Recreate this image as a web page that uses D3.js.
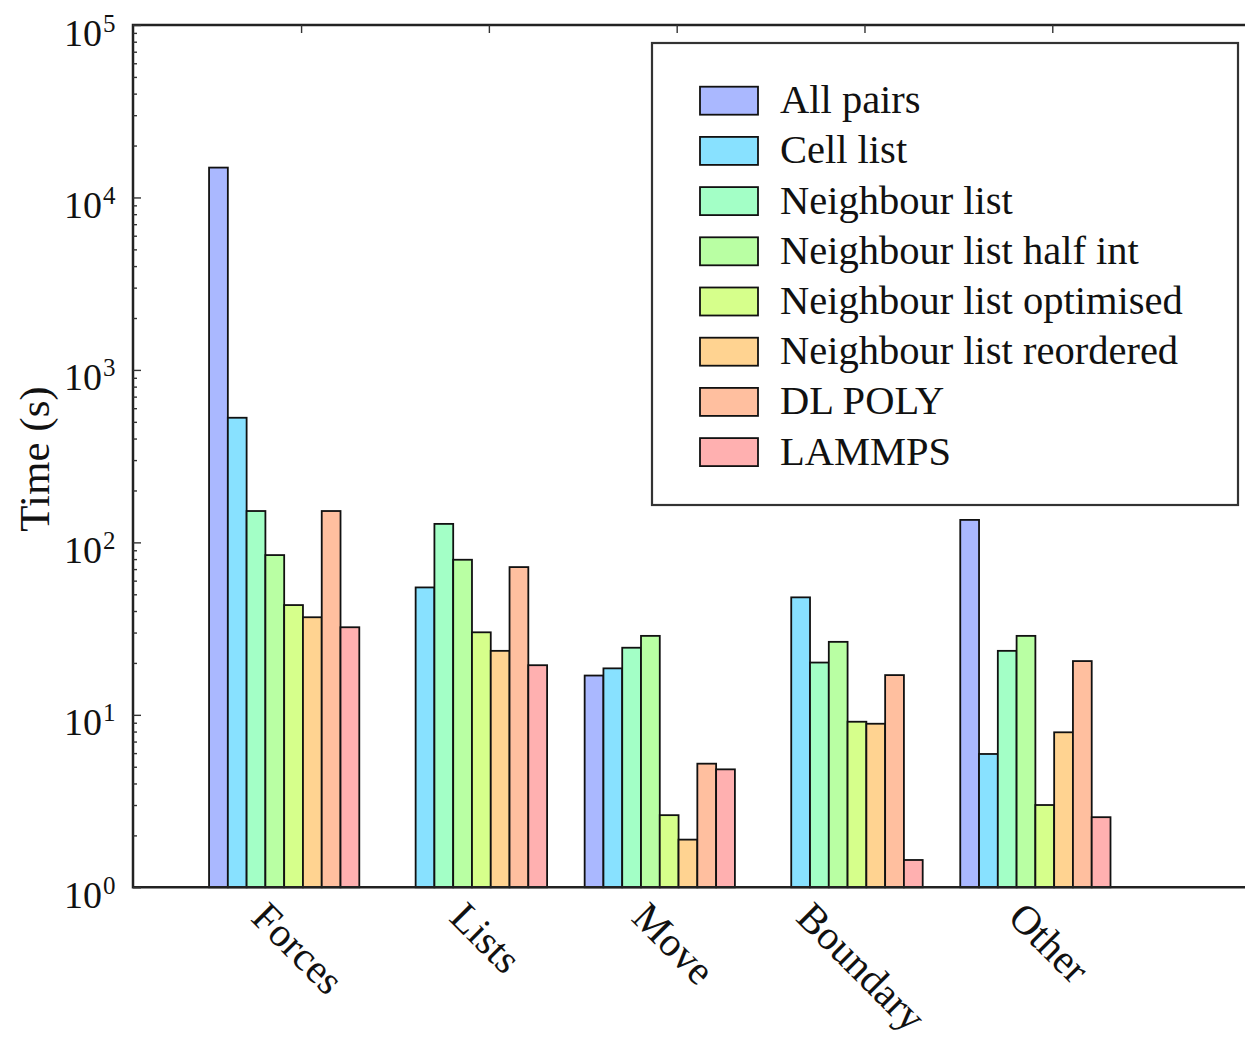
<!DOCTYPE html>
<html>
<head>
<meta charset="utf-8">
<script src="https://cdn.jsdelivr.net/npm/d3@7"></script>
<style>
  html, body { margin: 0; padding: 0; background: #fff; }
  svg { display: block; }
  text { font-family: "Liberation Serif", "DejaVu Serif", serif; fill: #111; }
</style>
</head>
<body>
<svg id="chart" width="1245" height="1039"></svg>
<script>
// ---- data ----
const categories = ["Forces", "Lists", "Move", "Boundary", "Other"];
const seriesNames = ["All pairs", "Cell list", "Neighbour list", "Neighbour list half int",
  "Neighbour list optimised", "Neighbour list reordered", "DL POLY", "LAMMPS"];
const allPairs      = [14900, null, 16.9, null, 135];
const cellList      = [528, 54.8, 18.6, 48.0, 5.93];
const neighbourList = [152, 128, 24.5, 20.1, 23.5];
const nlHalfInt     = [84.4, 79.3, 28.7, 26.5, 28.7];
const nlOptimised   = [43.3, 30.1, 2.62, 9.12, 3.0];
const nlReordered   = [36.8, 23.5, 1.89, 8.88, 7.92];
const dlPoly        = [152, 71.9, 5.21, 17.0, 20.5];
const lammps        = [32.2, 19.4, 4.83, 1.44, 2.55];
const seriesColors  = ["#aab8ff", "#88e1ff", "#a3ffc6", "#b9ffa3", "#d6ff8b", "#ffd391", "#ffbf9f", "#ffb0b0"];
const yTickValues   = [1, 10, 100, 1000, 10000, 100000];
const yTickExponents = ["0", "1", "2", "3", "4", "5"];
const yLabel = "Time (s)";

const seriesValues = [allPairs, cellList, neighbourList, nlHalfInt, nlOptimised, nlReordered, dlPoly, lammps];

// ---- layout ----
const plotLeft = 133, plotTop = 25, plotBottom = 887.3;
const barW = 0.1;
const x = d3.scaleLinear().domain([-0.405, 5.6]).range([plotLeft, plotLeft + 6.005 * 187.8]);
const y = d3.scaleLog().domain([1, 1e5]).range([plotBottom, plotTop]);

const svg = d3.select("#chart");

// bars
const bars = [];
seriesValues.forEach((vals, k) => {
  vals.forEach((v, i) => {
    if (v != null) bars.push({ i, k, v });
  });
});
svg.append("g").selectAll("rect").data(bars).join("rect")
  .attr("x", d => x(d.i + d.k * barW))
  .attr("width", d => x(barW) - x(0))
  .attr("y", d => y(d.v))
  .attr("height", d => y(1) - y(d.v))
  .attr("fill", d => seriesColors[d.k])
  .attr("stroke", "#111")
  .attr("stroke-width", 1.8);

// frame
const xEnd = x.range()[1];
svg.append("path")
  .attr("d", `M${xEnd},${plotTop}H${plotLeft}V${plotBottom}H${xEnd}`)
  .attr("fill", "none").attr("stroke", "#222").attr("stroke-width", 2.5);

// y ticks (major + minor), inward
const minor = [];
for (let e = 0; e < 5; e++) for (let m = 2; m <= 9; m++) minor.push(m * Math.pow(10, e));
const yMajor = svg.append("g").attr("transform", `translate(${plotLeft},0)`)
  .call(d3.axisLeft(y).tickValues(yTickValues).tickSize(-8).tickFormat(""));
const yMinor = svg.append("g").attr("transform", `translate(${plotLeft},0)`)
  .call(d3.axisLeft(y).tickValues(minor).tickSize(-4).tickFormat(""));
[yMajor, yMinor].forEach(g => {
  g.select(".domain").remove();
  g.selectAll(".tick line").attr("stroke", "#333").attr("stroke-width", 1.4);
});

// top x ticks
const xTop = svg.append("g").attr("transform", `translate(0,${plotTop})`)
  .call(d3.axisTop(x).tickValues(categories.map((c, i) => i + 0.49)).tickSize(-8).tickFormat(""));
xTop.select(".domain").remove();
xTop.selectAll(".tick line").attr("stroke", "#333").attr("stroke-width", 1.4);

// y tick labels with superscripts
const yl = svg.append("g");
yTickValues.forEach((v, j) => {
  const ty = y(v);
  yl.append("text").attr("x", 102).attr("y", ty + 20.5)
    .attr("text-anchor", "end").attr("font-size", 38).text("10");
  yl.append("text").attr("x", 103).attr("y", ty + 6.5)
    .attr("text-anchor", "start").attr("font-size", 25).text(yTickExponents[j]);
});

// y axis label
svg.append("text")
  .attr("transform", `translate(49,459) rotate(-90)`)
  .attr("text-anchor", "middle").attr("font-size", 43).text(yLabel);

// x category labels, rotated 45 degrees
const xl = svg.append("g");
categories.forEach((c, i) => {
  const t = xl.append("text").attr("font-size", 41)
    .attr("text-anchor", "middle").attr("dominant-baseline", "central").text(c);
  const w = t.node().getComputedTextLength();
  const h = 30;
  const bboxH = (w + h) / Math.SQRT2;
  const cx = x(i + 0.49) - 3;
  const cy = 899 + bboxH / 2;
  t.attr("transform", `translate(${cx},${cy}) rotate(45)`);
});

// legend
const lg = svg.append("g");
lg.append("rect").attr("x", 652).attr("y", 43).attr("width", 586).attr("height", 462)
  .attr("fill", "#fff").attr("stroke", "#333").attr("stroke-width", 2.2);
seriesNames.forEach((name, k) => {
  const cy = 100.7 + k * 50.2;
  lg.append("rect").attr("x", 700).attr("y", cy - 14).attr("width", 58).attr("height", 28)
    .attr("fill", seriesColors[k]).attr("stroke", "#111").attr("stroke-width", 1.8);
  lg.append("text").attr("x", 780).attr("y", cy + 12.5).attr("font-size", 40.5).text(name);
});
</script>
</body>
</html>
